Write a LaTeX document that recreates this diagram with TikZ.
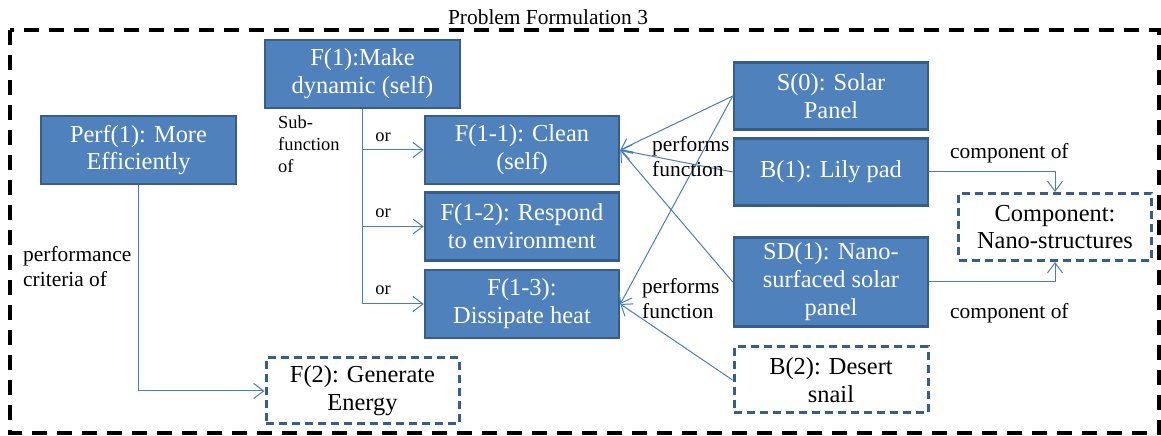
\documentclass[tikz,border=0pt]{standalone}
\usepackage{fontspec}
\setmainfont{Liberation Serif}
\usetikzlibrary{arrows.meta}
\definecolor{boxfill}{HTML}{4F81BD}
\definecolor{boxline}{HTML}{385D8A}
\definecolor{conn}{HTML}{4A7EBB}
\tikzset{
  fbox/.style={draw=boxline, line width=2.5bp, fill=boxfill, text=white, align=center,
    inner sep=0pt, font=\fontsize{24.5}{28}\selectfont},
  dbox/.style={draw=boxline, line width=3bp, dash pattern=on 8bp off 5bp, fill=white, text=black,
    align=center, inner sep=0pt, font=\fontsize{24.5}{28}\selectfont},
  conline/.style={draw=conn, line width=1bp},
  arr/.style={conline, -{Straight Barb[length=10bp, width=15bp, line width=1bp]}},
  lbl/.style={align=left, inner sep=0pt, text=black, font=\fontsize{21.5}{25}\selectfont},
  slbl/.style={align=left, inner sep=0pt, text=black, font=\fontsize{18.5}{22}\selectfont},
}
\begin{document}
\begin{tikzpicture}[x=1bp, y=-1bp]
\useasboundingbox (0,0) rectangle (1161,436);
% outer frame
\draw[black, line width=3.5bp, dash pattern=on 15bp off 10bp] (10,30) rectangle (1159,433);
\node[lbl, anchor=center] (title) at (548,17) {Problem Formulation 3};
% boxes
\node[fbox, minimum width=195bp, minimum height=68bp] (F1) at (362.5,74) {F(1):Make\\dynamic (self)};
\node[fbox, minimum width=195bp, minimum height=68bp] (Perf) at (138.5,150) {Perf(1): More\\Efficiently};
\node[fbox, minimum width=194bp, minimum height=68bp] (F11) at (522,150) {F(1-1): Clean\\(self)};
\node[fbox, minimum width=194bp, minimum height=68bp] (F12) at (522,226.5) {F(1-2): Respond\\to environment};
\node[fbox, minimum width=194bp, minimum height=68bp] (F13) at (522,304) {F(1-3):\\Dissipate heat};
\node[dbox, minimum width=193bp, minimum height=66bp] (F2) at (362.5,391) {F(2): Generate\\Energy};
\node[fbox, minimum width=194bp, minimum height=67bp] (S0) at (831,96) {S(0): Solar\\Panel};
\node[fbox, minimum width=194bp, minimum height=67bp] (B1) at (831,172) {B(1): Lily pad};
\node[fbox, minimum width=194bp, minimum height=89bp] (SD1) at (831,282) {SD(1): Nano-\\surfaced solar\\panel};
\node[dbox, minimum width=193bp, minimum height=67bp] (Comp) at (1055,227) {Component:\\Nano-structures};
\node[dbox, minimum width=194bp, minimum height=66bp] (B2) at (831,380) {B(2): Desert\\snail};
% sub-function connectors
\draw[conline] (F1.south) -- (F1.south |- F13.west);
\draw[arr] (F1.south |- F11.west) -- (F11.west);
\draw[arr] (F1.south |- F12.west) -- (F12.west);
\draw[arr] (F1.south |- F13.west) -- (F13.west);
\node[slbl, anchor=north west] (sub) at (278,116) {Sub-\\function\\of};
\node[slbl] (or1) at (383,137) {or};
\node[slbl] (or2) at (383,213) {or};
\node[slbl] (or3) at (383,290) {or};
% performance criteria
\draw[arr] (Perf.south) |- (F2.west);
\node[lbl, anchor=north west] (perfl) at (23,246) {performance\\criteria of};
% performs function
\draw[arr] (S0.west) -- (F11.east);
\draw[arr] (B1.west) -- (F11.east);
\draw[arr] (SD1.west) -- (F11.east);
\draw[arr] (S0.west) -- (F13.east);
\draw[arr] (B2.west) -- (F13.east);
\node[lbl, anchor=north west] (pf1) at (652,136) {performs\\function};
\node[lbl, anchor=north west] (pf2) at (642,278) {performs\\function};
% component of
\draw[arr] (B1.east) -| (Comp.north);
\draw[arr] (SD1.east) -| (Comp.south);
\node[lbl, anchor=west] (co1) at (950,153) {component of};
\node[lbl, anchor=west] (co2) at (950,313) {component of};
\end{tikzpicture}
\end{document}
